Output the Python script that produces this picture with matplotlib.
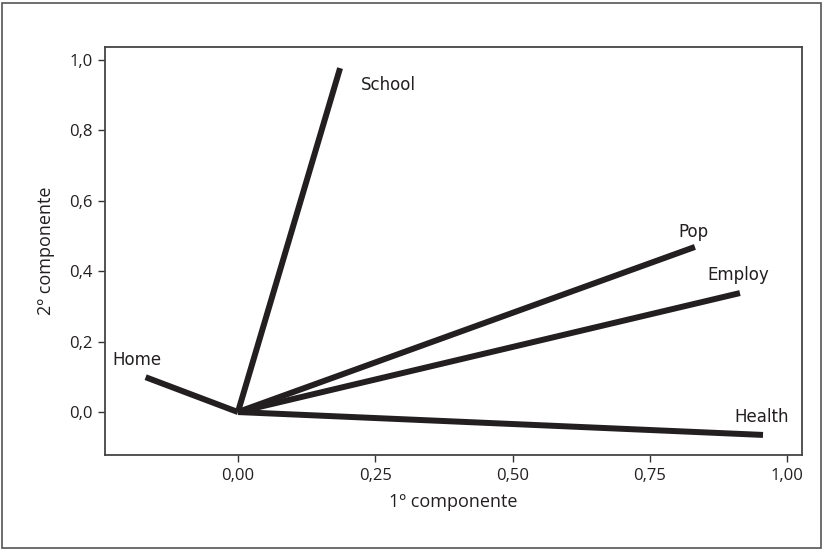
import matplotlib
matplotlib.use("Agg")
import matplotlib.pyplot as plt
from matplotlib.patches import Rectangle
from matplotlib.ticker import FuncFormatter

plt.rcParams['font.family'] = ['Open Sans', 'DejaVu Sans']

variables = ["School", "Pop", "Employ", "Health", "Home"]
comp1 = [0.186, 0.832, 0.914, 0.956, -0.168]
comp2 = [0.977, 0.469, 0.338, -0.065, 0.099]

x_ticks = [0.0, 0.25, 0.5, 0.75, 1.0]
y_ticks = [0.0, 0.2, 0.4, 0.6, 0.8, 1.0]

# label offsets (pixels, y up) relative to the vector tips
label_offsets = {
    "School": (21, -17),
    "Pop": (-17, 15),
    "Employ": (-33, 18),
    "Health": (-29, 18),
    "Home": (-33, 17),
}

fig = plt.figure(figsize=(8.24, 5.5), dpi=100)
ax = fig.add_axes([105 / 824, 1 - 455 / 550, (802 - 105) / 824, (455 - 47) / 550])

line_color = "#231f20"
for name, x, y in zip(variables, comp1, comp2):
    ax.plot([0, x], [0, y], color=line_color, lw=4.3, solid_capstyle="butt")
    dx, dy = label_offsets[name]
    ax.annotate(name, (x, y), xytext=(dx * 0.72, dy * 0.72), textcoords="offset points",
                fontsize=12, family="DejaVu Sans", color="#231f20",
                ha="left", va="center")

ax.set_xlim(-0.242, 1.027)
ax.set_ylim(-0.122, 1.037)
ax.set_xticks(x_ticks)
ax.set_yticks(y_ticks)
ax.xaxis.set_major_formatter(FuncFormatter(lambda v, p: f"{v:.2f}".replace(".", ",")))
ax.yaxis.set_major_formatter(FuncFormatter(lambda v, p: f"{v:.1f}".replace(".", ",")))
ax.tick_params(direction="out", length=5, width=1, color="#333333",
               labelsize=12, labelcolor="#231f20", pad=4)
for s in ax.spines.values():
    s.set_color("#444444")
    s.set_linewidth(1.3)

ax.set_xlabel("1º componente", fontsize=13, color="#231f20", labelpad=7)
ax.set_ylabel("2º componente", fontsize=13, color="#231f20", labelpad=10)

fig.patches.append(Rectangle((2 / 824, 2 / 550), 819 / 824, 545 / 550,
                             transform=fig.transFigure, fill=False,
                             edgecolor="#555555", linewidth=1.2))

fig.savefig("out.png", dpi=100)
